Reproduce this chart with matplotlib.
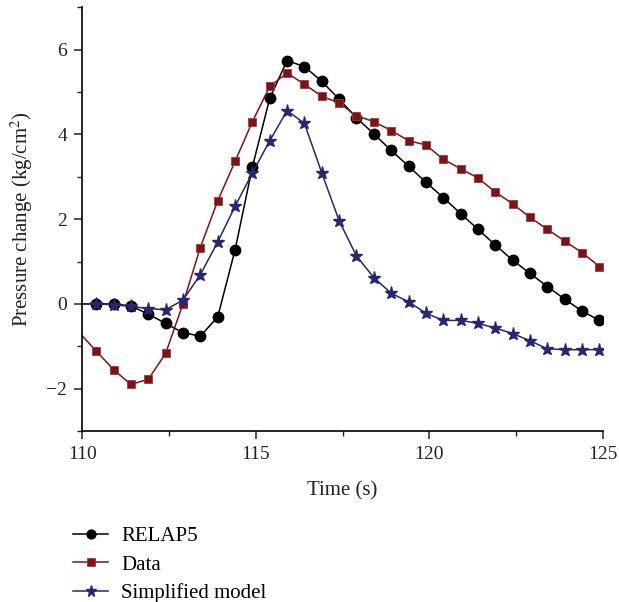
# pressure change transient: RELAP5 vs. measured data vs. simplified model
import matplotlib
matplotlib.use("Agg")
import matplotlib.pyplot as plt
from matplotlib.ticker import MultipleLocator

# DATA
# first point (109.9 s) lies just left of the axis, only its line segment is visible
times = [109.9, 110.4, 110.9, 111.4, 111.9, 112.4, 112.9, 113.4, 113.9, 114.4,
         114.9, 115.4, 115.9, 116.4, 116.9, 117.4, 117.9, 118.4, 118.9, 119.4,
         119.9, 120.4, 120.9, 121.4, 121.9, 122.4, 122.9, 123.4, 123.9, 124.4, 124.9]
relap5 = [0.0, 0.0, 0.0, -0.05, -0.24, -0.46, -0.68, -0.76, -0.31, 1.27,
          3.23, 4.85, 5.74, 5.60, 5.25, 4.83, 4.39, 4.01, 3.62, 3.25,
          2.87, 2.51, 2.13, 1.76, 1.39, 1.03, 0.72, 0.41, 0.11, -0.17, -0.39]
data = [-0.67, -1.11, -1.55, -1.90, -1.78, -1.17, 0.0, 1.33, 2.43, 3.36,
        4.30, 5.13, 5.45, 5.18, 4.90, 4.74, 4.44, 4.30, 4.09, 3.85,
        3.75, 3.41, 3.19, 2.97, 2.64, 2.36, 2.04, 1.76, 1.48, 1.21, 0.88]
simplified = [0.0, 0.0, -0.02, -0.06, -0.11, -0.14, 0.09, 0.69, 1.46, 2.30,
              3.09, 3.85, 4.56, 4.26, 3.09, 1.96, 1.13, 0.62, 0.25, 0.05,
              -0.22, -0.39, -0.39, -0.46, -0.57, -0.70, -0.87, -1.06, -1.08, -1.08, -1.08]

labels = ["RELAP5", "Data", "Simplified model"]

# STYLE
plt.rcParams['font.family'] = ['Liberation Serif', 'DejaVu Serif']
plt.rcParams['mathtext.fontset'] = 'stix'
fs = 14
fs_lab = 15

fig = plt.figure(figsize=(6.19, 6.02), dpi=100)
ax = fig.add_axes([0.133, 0.284, 0.841, 0.704])

ax.plot(times, relap5, color='black', lw=1.1, marker='o', ms=7.5,
        markevery=slice(1, None), label=labels[0])
ax.plot(times, data, color='#7c1417', lw=1.1, marker='s', ms=6.3,
        mec='#9a3a3c', mew=0.6, markevery=slice(1, None), label=labels[1])
ax.plot(times, simplified, color='#27276e', lw=1.1, marker='*', ms=9.5,
        markevery=slice(1, None), label=labels[2])

# AXES
ax.set_xlim(110, 125)
ax.set_ylim(-3, 7)
ax.xaxis.set_major_locator(MultipleLocator(5))
ax.xaxis.set_minor_locator(MultipleLocator(2.5))
ax.yaxis.set_major_locator(MultipleLocator(2))
ax.yaxis.set_minor_locator(MultipleLocator(1))
ax.set_yticks([-2, 0, 2, 4, 6])
ax.set_yticklabels(['\u22122', '0', '2', '4', '6'])
ax.spines['top'].set_visible(False)
ax.spines['right'].set_visible(False)
for s in ['left', 'bottom']:
    ax.spines[s].set_linewidth(1.2)
ax.tick_params(which='major', direction='out', length=6, width=1.1, labelsize=fs, colors='#222222', pad=5)
ax.tick_params(which='minor', direction='out', length=3.5, width=1.0, colors='#222222')
ax.set_xlabel('Time (s)', fontsize=fs_lab, color='#222222', labelpad=13)
ax.set_ylabel('Pressure change (kg/cm$^2$)', fontsize=fs_lab, color='#222222', labelpad=8)

# LEGEND below the plot
fig.legend(loc='upper left', bbox_to_anchor=(0.118, 0.125), frameon=False, fontsize=fs_lab,
           handlelength=1.7, handletextpad=0.6, labelspacing=0.42, borderpad=0, borderaxespad=0,
           markerscale=0.85)

fig.savefig('out.png', dpi=100)
